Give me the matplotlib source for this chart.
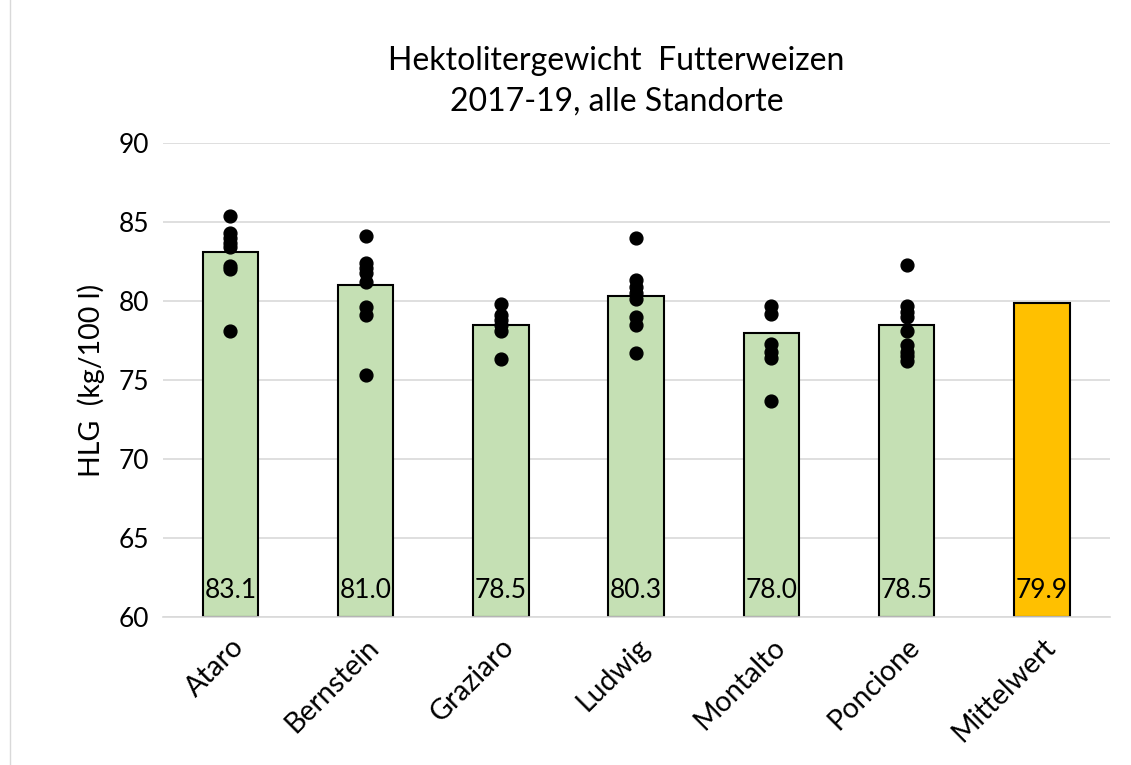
import matplotlib
matplotlib.use("Agg")
import matplotlib.pyplot as plt
from matplotlib.lines import Line2D

plt.rcParams['font.family'] = ['Lato', 'DejaVu Sans']

sorten = ['Ataro', 'Bernstein', 'Graziaro', 'Ludwig', 'Montalto', 'Poncione', 'Mittelwert']
mittel = [83.1, 81.0, 78.5, 80.3, 78.0, 78.5, 79.9]

# Einzelwerte je Standort/Jahr
ataro = [85.4, 84.3, 84.0, 83.7, 83.4, 82.2, 82.0, 78.1]
bernstein = [84.1, 82.4, 82.1, 81.8, 81.2, 79.6, 79.1, 75.3]
graziaro = [79.8, 79.1, 78.8, 78.5, 78.1, 76.3]
ludwig = [84.0, 81.3, 80.9, 80.5, 80.1, 79.0, 78.5, 76.7]
montalto = [79.7, 79.2, 77.3, 76.8, 76.4, 73.7]
poncione = [82.3, 79.7, 79.3, 79.0, 78.1, 77.2, 76.8, 76.5, 76.2]
einzel = [ataro, bernstein, graziaro, ludwig, montalto, poncione]

farben = ['#C5E0B4'] * 6 + ['#FFC000']

fig = plt.figure(figsize=(11.31, 7.65), dpi=100)
ax = fig.add_axes([0.144, 0.1935, 0.837, 0.6195])

x = range(len(sorten))
ax.bar(x, [m - 60 for m in mittel], bottom=60, width=0.41, color=farben,
       edgecolor='black', linewidth=1.5, zorder=2)

for i, werte in enumerate(einzel):
    ax.scatter([i] * len(werte), werte, s=85, color='black', zorder=3)

for i, m in enumerate(mittel):
    ax.text(i, 61.7, f'{m:.1f}', ha='center', va='center', fontsize=19, zorder=4)

ax.set_ylim(60, 90)
ax.set_xlim(-0.5, 6.5)
ax.set_yticks(range(60, 91, 5))
ax.yaxis.grid(True, color='#D9D9D9', linewidth=1.2, zorder=0)
ax.set_axisbelow(True)
for s in ['top', 'right', 'left']:
    ax.spines[s].set_visible(False)
ax.spines['bottom'].set_color('#D9D9D9')
ax.spines['bottom'].set_linewidth(1.2)
ax.tick_params(axis='y', length=0, labelsize=19, pad=10)
ax.tick_params(axis='x', length=0, labelsize=20.5, pad=12)
ax.set_xticks(list(x))
ax.set_xticklabels(sorten, rotation=45, ha='right', rotation_mode='anchor')
ax.set_ylabel('HLG  (kg/100 l)', fontsize=20.5, labelpad=10)

fig.suptitle('Hektolitergewicht  Futterweizen\n2017-19, alle Standorte',
             x=0.545, y=0.94, fontsize=23, linespacing=1.45)

fig.add_artist(Line2D([0.009, 0.009], [0, 1], color='#D9D9D9', linewidth=1,
                      transform=fig.transFigure))

fig.savefig('out.png', dpi=100)
